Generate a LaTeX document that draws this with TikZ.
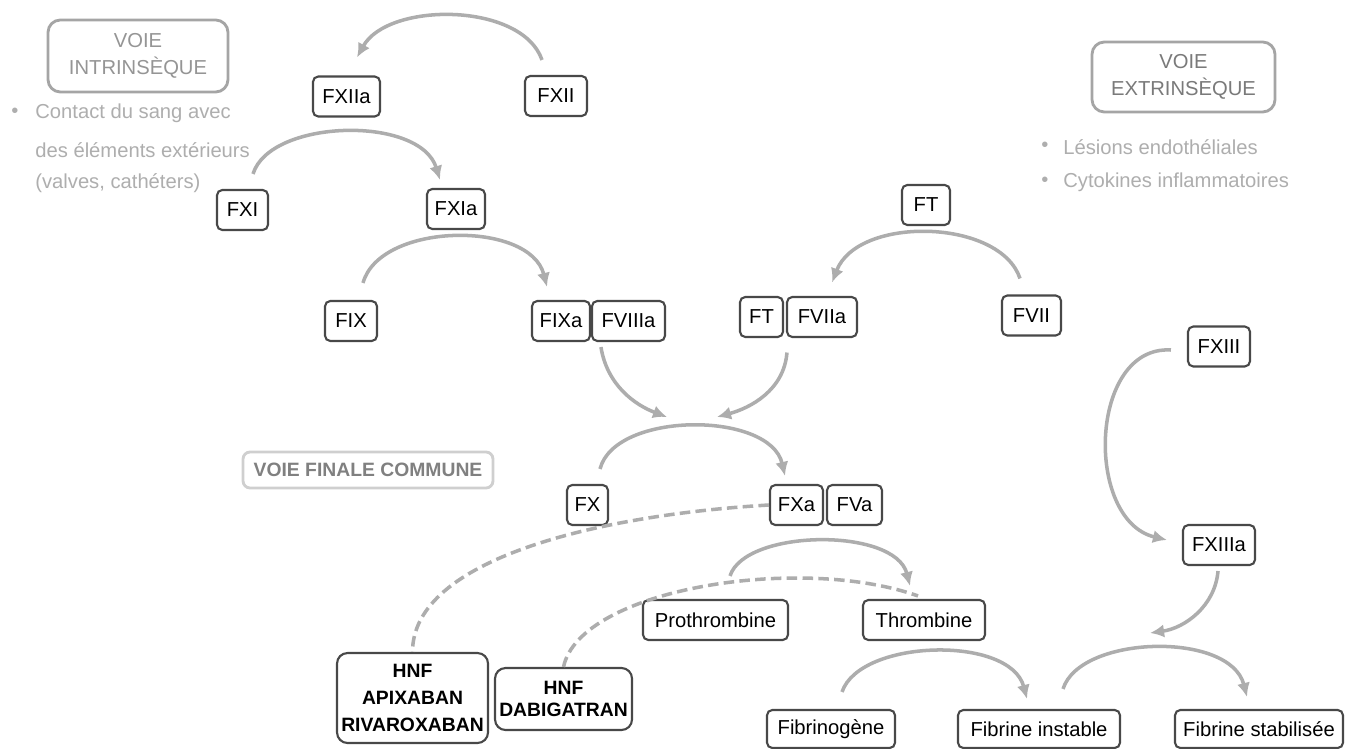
\documentclass[tikz,border=0pt]{standalone}
\usepackage{fontspec}
\setmainfont{Liberation Sans}
\usetikzlibrary{arrows.meta}
\definecolor{boxc}{HTML}{484848}
\definecolor{arrc}{HTML}{ADADAD}
\definecolor{ttl}{HTML}{959595}
\definecolor{ttlb}{HTML}{7A7A7A}
\definecolor{bul}{HTML}{AEAEAE}
\definecolor{tboxc}{HTML}{A5A5A5}
\definecolor{vfcb}{HTML}{CFCFCF}
\definecolor{vfct}{HTML}{808080}
\begin{document}
\begin{tikzpicture}[x=0.02cm,y=-0.02cm,
  every node/.style={font=\fontsize{11.5}{14}\selectfont},
  fbox/.style={draw=boxc, line width=1.2pt, rounded corners=3pt, inner sep=0pt, minimum height=0.8cm, fill=white},
  tbox/.style={draw=tboxc, line width=1.6pt, rounded corners=7pt, inner sep=0pt, text=ttl, align=center, font=\fontsize{11.5}{15.3}\selectfont},
  arr/.style={draw=arrc, line width=2pt, -{Latex[length=8pt,width=7.5pt]}},
  dsh/.style={draw=arrc, line width=2pt, dash pattern=on 6pt off 3pt},
  bt/.style={text=bul, anchor=west, inner sep=0pt},
]
\fill[white] (0,0) rectangle (1351,749);
\useasboundingbox (0,0) rectangle (1351,749);

% titles and descriptions
\node[tbox, minimum width=3.6cm, minimum height=1.44cm] (intr) at (138,56) {VOIE\\INTRINSÈQUE};
\node[text=bul, inner sep=0pt] (lb1) at (15,113) {•};
\node[bt] (l1) at (35,113) {Contact du sang avec};
\node[bt] (l2) at (35,150) {des éléments extérieurs};
\node[bt] (l3) at (35,183) {(valves, cathéters)};

\node[tbox, text=ttlb, minimum width=3.66cm, minimum height=1.4cm] (extr) at (1183.5,77) {VOIE\\EXTRINSÈQUE};
\node[text=bul, inner sep=0pt] (rb1) at (1045,147) {•};
\node[text=bul, inner sep=0pt] (rb2) at (1045,182) {•};
\node[bt] (r1) at (1063,147) {Lésions endothéliales};
\node[bt] (r2) at (1063,182) {Cytokines inflammatoires};

\node[tbox, draw=vfcb, text=vfct, font=\fontsize{11}{14}\selectfont\bfseries, rounded corners=4pt, minimum width=5cm, minimum height=0.72cm] (vfc) at (368,470) {VOIE FINALE COMMUNE};

% factors
\node[fbox, minimum width=1.34cm] (FXIIa) at (346.5,96.5) {FXIIa};
\node[fbox, minimum width=1.24cm] (FXII) at (556,96) {FXII};
\node[fbox, minimum width=1.02cm] (FXI) at (242.5,210) {FXI};
\node[fbox, minimum width=1.16cm] (FXIa) at (456,209) {FXIa};
\node[fbox, minimum width=1.04cm] (FIX) at (351,321) {FIX};
\node[fbox, minimum width=1.16cm] (FIXa) at (561,321) {FIXa};
\node[fbox, minimum width=1.46cm] (FVIIIa) at (628.5,321) {FVIIIa};
\node[fbox, minimum width=0.96cm] (FTt) at (926,205) {FT};
\node[fbox, minimum width=0.86cm] (FTb) at (761.5,317) {FT};
\node[fbox, minimum width=1.4cm] (FVIIa) at (822,317) {FVIIa};
\node[fbox, minimum width=1.18cm] (FVII) at (1031.5,315.5) {FVII};
\node[fbox, minimum width=1.24cm] (FXIII) at (1219,346.5) {FXIII};
\node[fbox, minimum width=1.44cm] (FXIIIa) at (1219,545) {FXIIIa};
\node[fbox, minimum width=0.82cm] (FX) at (587.5,505) {FX};
\node[fbox, minimum width=1.06cm] (FXa) at (796.5,505) {FXa};
\node[fbox, minimum width=1.1cm] (FVa) at (854.5,505) {FVa};
\node[fbox, minimum width=2.9cm] (proth) at (715.5,620) {Prothrombine};
\node[fbox, minimum width=2.44cm] (throm) at (924,620) {Thrombine};
\node[fbox, minimum width=3.02cm, minimum height=1.8cm, rounded corners=6pt, align=center, font=\fontsize{11}{15.3}\selectfont\bfseries] (hnf1) at (412.5,698) {HNF\\APIXABAN\\RIVAROXABAN};
\node[fbox, minimum width=2.74cm, minimum height=1.24cm, rounded corners=6pt, align=center, font=\fontsize{11}{12.5}\selectfont\bfseries] (hnf2) at (563.5,699) {HNF\\DABIGATRAN};
\node[fbox, minimum width=2.56cm, minimum height=0.76cm] (fibg) at (831,729) {Fibrinogène};
\node[fbox, minimum width=3.24cm, minimum height=0.76cm] (fibi) at (1039,729) {Fibrine instable};
\node[fbox, minimum width=3.36cm, minimum height=0.76cm] (fibs) at (1259,729) {Fibrine stabilisée};

\coordinate (conv1) at (667,417);
\coordinate (conv2) at (717,417);
\coordinate (conv3) at (1150,633);

% connectors
\draw[arr] ([shift={(-14,-15)}]FXII.north) .. controls +(-20,-58) and +(31,-56) .. ([shift={(10.5,-18)}]FXIIa.north);
\draw[arr] ([shift={(10.5,-15)}]FXI.north) .. controls +(17,-55) and +(-20,-65) .. ([shift={(-16,-8)}]FXIa.north);
\draw[arr] ([shift={(12,-17)}]FIX.north) .. controls +(17,-61) and +(-17,-67) .. ([shift={(-14,-13)}]FIXa.north);
\draw[arr] ([shift={(-11.5,-16)}]FVII.north) .. controls +(-20,-60) and +(26,-67) .. ([shift={(10,-13.5)}]FVIIa.north);
\draw[arr] ([shift={(10,5)}]FVIIIa.south west) .. controls +(6,38) and +(-32,-12) .. (conv1);
\draw[arr] ([shift={(1,14.5)}]FVIIa.south west) .. controls +(-3,38) and +(33,-9) .. (conv2);
\draw[arr] ([shift={(12.5,-15)}]FX.north) .. controls +(15,-58) and +(-15,-65) .. ([shift={(-11.5,-8)}]FXa.north);
\draw[dsh] (FXa.west) .. controls +(-170,10) and +(0,-93) .. (hnf1.north);
\draw[dsh] (hnf2.north) .. controls +(16.5,-78) and +(-118,-42) .. ([shift={(-6,-3)}]throm.north);
\draw[arr] ([shift={(14.5,-23)}]proth.north) .. controls +(15,-47) and +(-15,-59) .. ([shift={(-14,-13)}]throm.north);
\draw[arr] ([shift={(11,-17)}]fibg.north) .. controls +(18,-53) and +(-17,-64) .. ([shift={(-12,-10)}]fibi.north);
\draw[arr] ([shift={(24,-20)}]fibi.north) .. controls +(17,-54) and +(-17,-66) .. ([shift={(-12,-12)}]fibs.north);
\draw[arr] ([shift={(-16,3.5)}]FXIII.west) .. controls +(-82,-5) and +(-83,-20) .. ([shift={(-15,-5)}]FXIIIa.west);
\draw[arr] ([shift={(-1,5)}]FXIIIa.south) .. controls +(-3,35) and +(35,-5) .. (conv3);
\end{tikzpicture}
\end{document}
